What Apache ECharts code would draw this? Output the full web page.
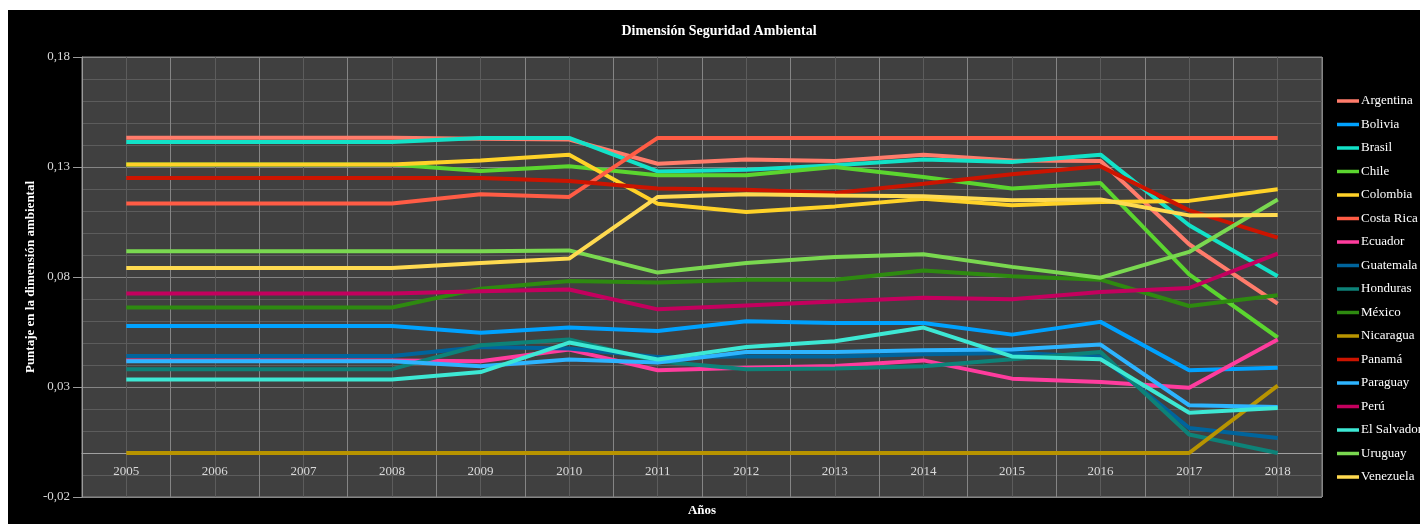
<!DOCTYPE html>
<html>
<head>
<meta charset="utf-8">
<script src="https://cdn.jsdelivr.net/npm/echarts@6/dist/echarts.min.js"></script>
<style>
html,body{margin:0;padding:0;background:#fff;width:1420px;height:524px;overflow:hidden;}
#c{position:absolute;left:8px;top:10px;width:1412px;height:514px;background:#000;}
</style>
</head>
<body>
<div id="c"></div>
<script>
const years = ['2005','2006','2007','2008','2009','2010','2011','2012','2013','2014','2015','2016','2017','2018'];
const yTicks = {min: -0.02, max: 0.18, interval: 0.05};

const argentina  = [0.1433,0.1433,0.1433,0.1433,0.1428,0.1425,0.1315,0.1334,0.1327,0.1356,0.1330,0.1327,0.0949,0.0679];
const bolivia    = [0.0577,0.0577,0.0577,0.0577,0.0547,0.0570,0.0555,0.0599,0.0591,0.0591,0.0538,0.0596,0.0376,0.0388];
const brasil     = [0.1414,0.1414,0.1414,0.1414,0.1432,0.1432,0.1280,0.1288,0.1308,0.1334,0.1323,0.1356,0.1035,0.0803];
const chile      = [0.1311,0.1311,0.1311,0.1311,0.1282,0.1303,0.1262,0.1262,0.1300,0.1255,0.1202,0.1227,0.0812,0.0525];
const colombia   = [0.1311,0.1311,0.1311,0.1311,0.1330,0.1356,0.1133,0.1095,0.1121,0.1156,0.1126,0.1141,0.1146,0.1199];
const costaRica  = [0.1134,0.1134,0.1134,0.1134,0.1176,0.1164,0.1432,0.1432,0.1432,0.1432,0.1432,0.1432,0.1432,0.1432];
const ecuador    = [0.0421,0.0421,0.0421,0.0421,0.0417,0.0470,0.0376,0.0388,0.0396,0.0421,0.0338,0.0323,0.0297,0.0516];
const guatemala  = [0.0441,0.0441,0.0441,0.0441,0.0482,0.0475,0.0436,0.0439,0.0439,0.0449,0.0455,0.0439,0.0114,0.0068];
const honduras   = [0.0381,0.0381,0.0381,0.0381,0.0490,0.0516,0.0417,0.0381,0.0384,0.0394,0.0426,0.0459,0.0084,0.0000];
const mexico     = [0.0661,0.0661,0.0661,0.0661,0.0747,0.0782,0.0775,0.0788,0.0788,0.0830,0.0803,0.0788,0.0668,0.0717];
const nicaragua  = [0,0,0,0,0,0,0,0,0,0,0,0,0,0.0306];
const panama     = [0.1250,0.1250,0.1250,0.1250,0.1250,0.1236,0.1202,0.1197,0.1182,0.1224,0.1267,0.1303,0.1103,0.0979];
const paraguay   = [0.0417,0.0417,0.0417,0.0417,0.0394,0.0425,0.0411,0.0459,0.0459,0.0467,0.0470,0.0493,0.0217,0.0209];
const peru       = [0.0725,0.0725,0.0725,0.0725,0.0735,0.0743,0.0653,0.0671,0.0689,0.0706,0.0699,0.0732,0.0750,0.0906];
const elSalvador = [0.0334,0.0334,0.0334,0.0334,0.0368,0.0502,0.0425,0.0482,0.0508,0.0570,0.0439,0.0426,0.0183,0.0205];
const uruguay    = [0.0917,0.0917,0.0917,0.0917,0.0917,0.0921,0.0820,0.0864,0.0891,0.0903,0.0846,0.0797,0.0914,0.1152];
const venezuela  = [0.0841,0.0841,0.0841,0.0841,0.0864,0.0884,0.1164,0.1176,0.1171,0.1167,0.1149,0.1152,0.1080,0.1082];

const seriesDefs = [
  ['Argentina', argentina, '#ff7c6b'],
  ['Bolivia', bolivia, '#00a2ff'],
  ['Brasil', brasil, '#12e2c8'],
  ['Chile', chile, '#5bd52f'],
  ['Colombia', colombia, '#ffd228'],
  ['Costa Rica', costaRica, '#ff5c45'],
  ['Ecuador', ecuador, '#ff3c9e'],
  ['Guatemala', guatemala, '#00649c'],
  ['Honduras', honduras, '#0d8278'],
  ['México', mexico, '#2e8a10'],
  ['Nicaragua', nicaragua, '#b89400'],
  ['Panamá', panama, '#cc1400'],
  ['Paraguay', paraguay, '#2db4ff'],
  ['Perú', peru, '#c4005e'],
  ['El Salvador', elSalvador, '#3de8d4'],
  ['Uruguay', uruguay, '#7ad850'],
  ['Venezuela', venezuela, '#ffda50']
];

// Pixel distance from the bottom of the plot to the value-0 line (axis crosses at 0)
const gridH = 440;
const zeroOffset = -gridH * (0 - yTicks.min) / (yTicks.max - yTicks.min);

const serif = '"Liberation Serif", "Times New Roman", serif';
const chart = echarts.init(document.getElementById('c'), null, {renderer: 'canvas'});
chart.setOption({
  animation: false,
  backgroundColor: '#000',
  title: {
    text: 'Dimensión Seguridad Ambiental',
    left: 711, top: 14, textAlign: 'center', padding: 0,
    textStyle: {color: '#ffffff', fontFamily: serif, fontWeight: 'bold', fontSize: 14}
  },
  legend: {
    orient: 'vertical', left: 1329, top: 84, padding: 0,
    icon: 'rect', itemWidth: 22, itemHeight: 3.5, itemGap: 9.5,
    textStyle: {color: '#ffffff', fontFamily: serif, fontSize: 13, lineHeight: 14, padding: [0,0,0,-3]},
    data: seriesDefs.map(d => d[0])
  },
  grid: {
    left: 74, top: 47, width: 1240, height: gridH,
    outerBoundsMode: 'none', containLabel: false,
    show: true, backgroundColor: '#404040', borderColor: '#8a8a8a', borderWidth: 1
  },
  xAxis: [{
    type: 'category', data: years, boundaryGap: true,
    offset: zeroOffset,
    name: 'Años', nameLocation: 'middle', nameGap: 51,
    nameTextStyle: {color: '#ffffff', fontFamily: serif, fontWeight: 'bold', fontSize: 13},
    axisLine: {onZero: false, lineStyle: {color: '#a0a0a0', width: 1}},
    axisTick: {show: false},
    axisLabel: {color: '#d9d9d9', fontFamily: serif, fontSize: 13, margin: 12},
    splitLine: {show: true, lineStyle: {color: '#858585', width: 1}}
  }, {
    type: 'value', min: 0, max: 14, interval: 1, position: 'bottom',
    axisLine: {show: false, onZero: false}, axisTick: {show: false}, axisLabel: {show: false},
    splitLine: {show: false},
    minorTick: {show: false, splitNumber: 2},
    minorSplitLine: {show: true, lineStyle: {color: '#5c5c5c', width: 1}}
  }],
  yAxis: {
    type: 'value', min: yTicks.min, max: yTicks.max, interval: yTicks.interval,
    name: 'Puntaje en la dimensión ambiental', nameLocation: 'middle', nameGap: 45,
    nameMoveOverlap: false,
    nameTextStyle: {color: '#ffffff', fontFamily: serif, fontWeight: 'bold', fontSize: 13},
    axisLine: {show: true, lineStyle: {color: '#9a9a9a'}},
    axisTick: {show: true, length: 9, lineStyle: {color: '#9a9a9a'}},
    axisLabel: {color: '#d9d9d9', fontFamily: serif, fontSize: 13, margin: 12,
      formatter: v => v.toFixed(2).replace('.', ',')},
    splitLine: {show: true, lineStyle: {color: '#858585', width: 1}},
    minorTick: {show: false, splitNumber: 5},
    minorSplitLine: {show: true, lineStyle: {color: '#5c5c5c', width: 1}}
  },
  series: seriesDefs.map(d => ({
    name: d[0], type: 'line', data: d[1], xAxisIndex: 0,
    symbol: 'none', color: d[2],
    lineStyle: {width: 4, color: d[2]}
  }))
});
</script>
</body>
</html>
